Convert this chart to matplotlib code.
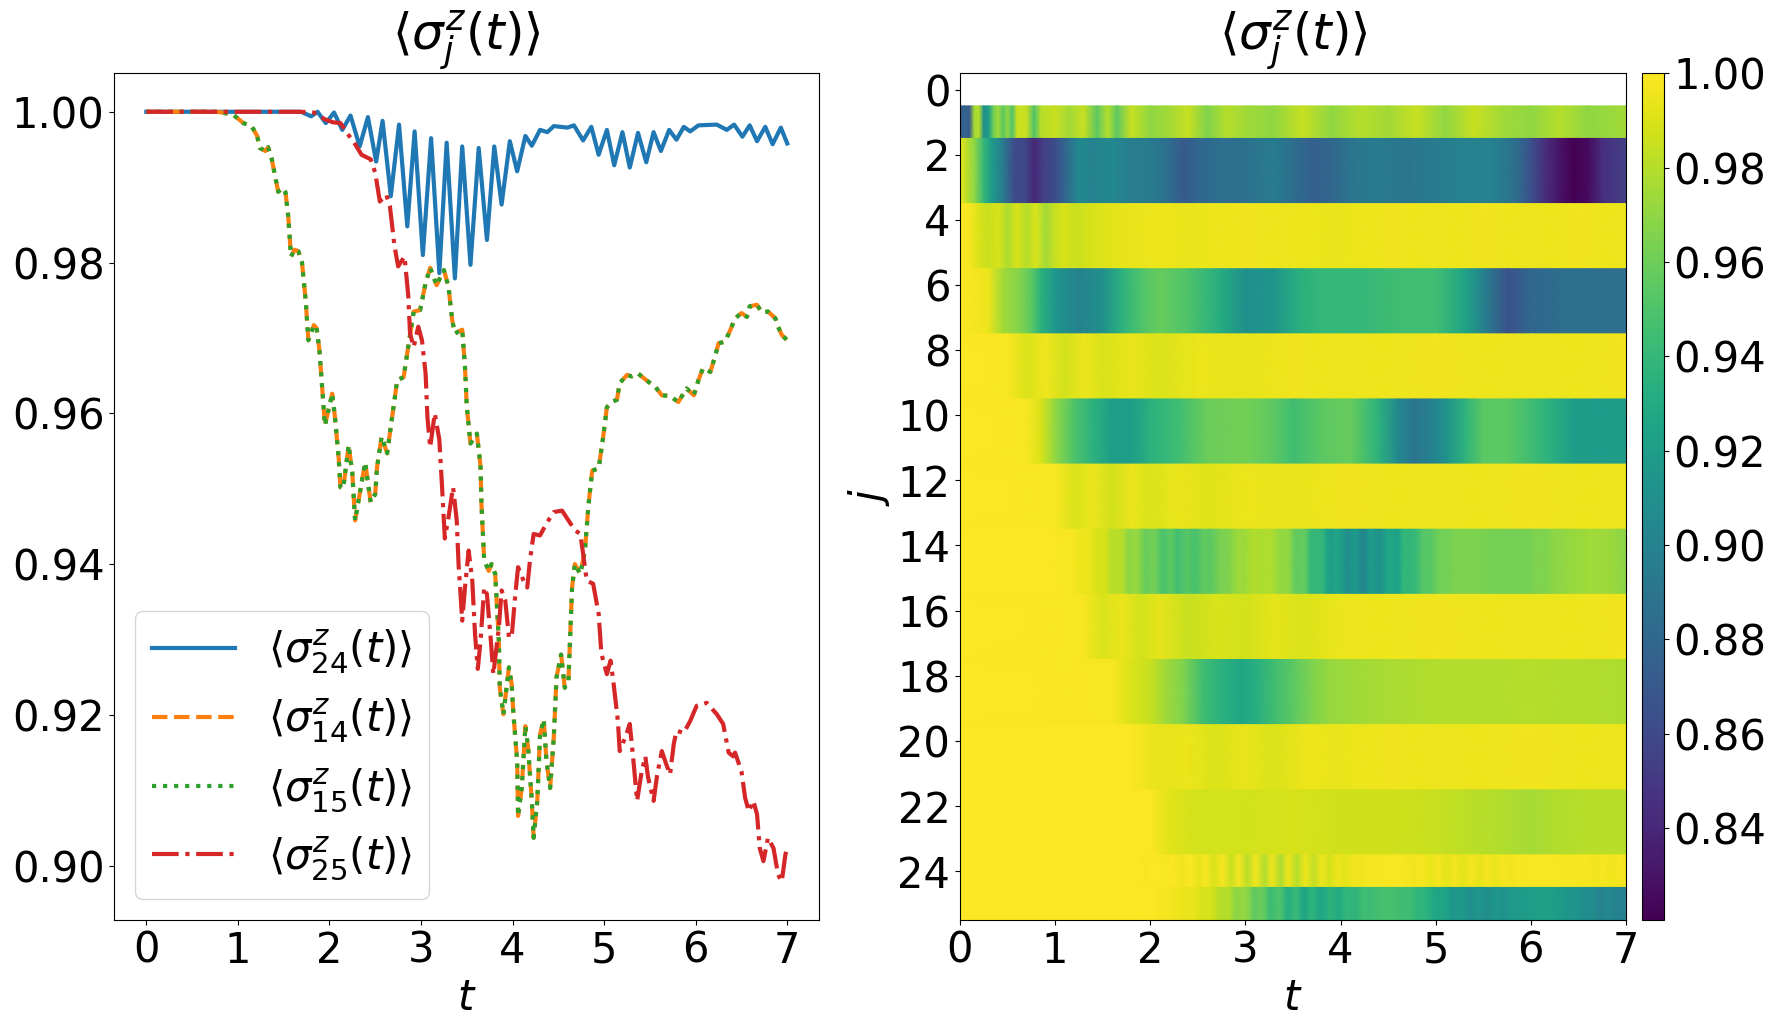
import numpy as np
import matplotlib
matplotlib.use("Agg")
import matplotlib.pyplot as plt
from matplotlib.colors import Normalize
from matplotlib.cm import ScalarMappable

fs = 30
fs_title = 36

# ---- line data ----
sz24_t = [0, 1.69, 1.80, 1.87, 1.96, 2.05, 2.14, 2.23, 2.33, 2.42, 2.51, 2.58, 2.67, 2.76,
          2.85, 2.93, 3.02, 3.11, 3.20, 3.28, 3.37, 3.45, 3.54, 3.63, 3.72, 3.80, 3.88, 3.97,
          4.05, 4.14, 4.21, 4.30, 4.38, 4.45, 4.60, 4.67, 4.77, 4.86, 4.94, 5.03, 5.11, 5.20,
          5.28, 5.37, 5.46, 5.54, 5.62, 5.71, 5.79, 5.87, 5.94, 6.03, 6.23, 6.34, 6.42, 6.51,
          6.59, 6.67, 6.76, 6.84, 6.93, 7.0]
sz24_v = [1.0, 1.0, 0.9994, 1.0, 0.9985, 0.9999, 0.9976, 0.9995, 0.9954, 0.9993, 0.9934,
          0.9988, 0.9888, 0.9983, 0.9848, 0.9974, 0.9810, 0.9965, 0.9786, 0.9959, 0.9779,
          0.9954, 0.9797, 0.9952, 0.9830, 0.9954, 0.9877, 0.9961, 0.9921, 0.9968, 0.9955,
          0.9976, 0.9973, 0.9981, 0.9979, 0.9982, 0.9962, 0.9980, 0.9943, 0.9976, 0.9929,
          0.9973, 0.9926, 0.9972, 0.9933, 0.9973, 0.9948, 0.9976, 0.9963, 0.9980, 0.9974,
          0.9982, 0.9983, 0.9976, 0.9983, 0.9967, 0.9982, 0.9961, 0.9980, 0.9957, 0.9979,
          0.9958]

sz14_t = [0, 0.73, 0.81, 0.95, 1.06, 1.15, 1.21, 1.24, 1.30, 1.33, 1.37, 1.41, 1.44, 1.49,
          1.52, 1.55, 1.58, 1.62, 1.66, 1.70, 1.74, 1.77, 1.83, 1.86, 1.89, 1.92, 1.95, 2.00,
          2.03, 2.06, 2.10, 2.12, 2.15, 2.21, 2.25, 2.28, 2.35, 2.39, 2.45, 2.50, 2.52, 2.57,
          2.63, 2.68, 2.74, 2.81, 2.86, 2.92, 2.99, 3.05, 3.10, 3.17, 3.25, 3.30, 3.34, 3.37,
          3.45, 3.48, 3.50, 3.54, 3.61, 3.65, 3.66, 3.69, 3.74, 3.77, 3.81, 3.83, 3.85, 3.86,
          3.90, 3.96, 3.99, 4.01, 4.05, 4.06, 4.10, 4.14, 4.17, 4.21, 4.23, 4.27, 4.30, 4.34,
          4.37, 4.41, 4.45, 4.48, 4.53, 4.57, 4.61, 4.65, 4.68, 4.74, 4.79, 4.83, 4.87, 4.94,
          4.99, 5.03, 5.08, 5.14, 5.17, 5.25, 5.30, 5.37, 5.46, 5.56, 5.63, 5.72, 5.81, 5.90,
          5.98, 6.03, 6.08, 6.16, 6.21, 6.25, 6.32, 6.38, 6.43, 6.50, 6.56, 6.59, 6.67, 6.72,
          6.79, 6.87, 6.90, 6.94, 7.0]
sz14_v = [1.0, 1.0, 0.99995, 0.9996, 0.9985, 0.9981, 0.9968, 0.9952, 0.9948, 0.9953, 0.9937,
          0.9912, 0.9894, 0.9899, 0.9893, 0.9861, 0.9808, 0.9817, 0.9815, 0.9800, 0.9750,
          0.9697, 0.9717, 0.9713, 0.9684, 0.9635, 0.9584, 0.9610, 0.9626, 0.9595, 0.9542,
          0.9502, 0.9500, 0.9558, 0.9520, 0.9458, 0.9507, 0.9535, 0.9482, 0.9493, 0.9529,
          0.9569, 0.9547, 0.9591, 0.9644, 0.9648, 0.9688, 0.9735, 0.9737, 0.9773, 0.9793,
          0.9770, 0.9790, 0.9768, 0.9724, 0.9706, 0.9711, 0.9662, 0.9609, 0.9560, 0.9573,
          0.9530, 0.9480, 0.9405, 0.9391, 0.9400, 0.9387, 0.9343, 0.9298, 0.9236, 0.9201,
          0.9263, 0.9241, 0.9200, 0.9139, 0.9066, 0.9103, 0.9185, 0.9156, 0.9086, 0.9037,
          0.9086, 0.9174, 0.9194, 0.9139, 0.9103, 0.9170, 0.9250, 0.9280, 0.9236, 0.9245,
          0.9369, 0.9400, 0.9387, 0.9418, 0.9480, 0.9524, 0.9527, 0.9569, 0.9608, 0.9615,
          0.9618, 0.9640, 0.9651, 0.9649, 0.9653, 0.9644, 0.9635, 0.9624, 0.9623, 0.9615,
          0.9633, 0.9624, 0.9644, 0.9660, 0.9655, 0.9675, 0.9693, 0.9695, 0.9711, 0.9726,
          0.9733, 0.9728, 0.9742, 0.9744, 0.9734, 0.9735, 0.9726, 0.9715, 0.9704, 0.9697]

# sigma_15 lies on top of sigma_14 in the picture
sz15_t = list(sz14_t)
sz15_v = list(sz14_v)

sz25_t = [0, 1.68, 1.83, 1.95, 2.04, 2.12, 2.19, 2.26, 2.35, 2.45, 2.50, 2.55, 2.62, 2.66,
          2.71, 2.75, 2.82, 2.86, 2.88, 2.92, 2.97, 3.01, 3.05, 3.07, 3.10, 3.15, 3.20, 3.23,
          3.26, 3.30, 3.35, 3.39, 3.41, 3.45, 3.48, 3.52, 3.56, 3.59, 3.62, 3.65, 3.69, 3.72,
          3.76, 3.79, 3.85, 3.88, 3.92, 3.96, 3.99, 4.03, 4.06, 4.12, 4.16, 4.19, 4.23, 4.30,
          4.37, 4.45, 4.54, 4.61, 4.68, 4.74, 4.77, 4.81, 4.88, 4.94, 4.97, 5.03, 5.07, 5.10,
          5.15, 5.17, 5.23, 5.28, 5.32, 5.36, 5.41, 5.45, 5.48, 5.54, 5.58, 5.63, 5.68, 5.72,
          5.76, 5.79, 5.87, 5.94, 6.01, 6.12, 6.23, 6.30, 6.36, 6.41, 6.43, 6.50, 6.54, 6.58,
          6.63, 6.67, 6.70, 6.74, 6.79, 6.85, 6.90, 6.94, 6.98, 7.0]
sz25_v = [1.0, 1.0, 0.9999, 0.9990, 0.9986, 0.9985, 0.9972, 0.9961, 0.9943, 0.9937, 0.9919,
          0.9881, 0.9890, 0.9875, 0.9822, 0.9795, 0.9808, 0.9757, 0.9706, 0.9688, 0.9715,
          0.9697, 0.9653, 0.9595, 0.9555, 0.9600, 0.9565, 0.9502, 0.9434, 0.9462, 0.9502,
          0.9458, 0.9400, 0.9325, 0.9369, 0.9418, 0.9378, 0.9307, 0.9261, 0.9298, 0.9369,
          0.9360, 0.9303, 0.9254, 0.9316, 0.9365, 0.9352, 0.9303, 0.9303, 0.9360, 0.9396,
          0.9378, 0.9369, 0.9405, 0.9440, 0.9438, 0.9454, 0.9469, 0.9471, 0.9458, 0.9445,
          0.9440, 0.9414, 0.9378, 0.9374, 0.9334, 0.9281, 0.9254, 0.9272, 0.9245, 0.9192,
          0.9152, 0.9170, 0.9188, 0.9139, 0.9086, 0.9125, 0.9145, 0.9117, 0.9086, 0.9121,
          0.9152, 0.9134, 0.9121, 0.9161, 0.9179, 0.9176, 0.9192, 0.9212, 0.9216, 0.9201,
          0.9188, 0.9150, 0.9145, 0.9150, 0.9125, 0.9090, 0.9072, 0.9086, 0.9068, 0.9023,
          0.9006, 0.9037, 0.9023, 0.8988, 0.8979, 0.9015, 0.9023]

# ---- heatmap bands (rows of <sigma_j^z(t)>) ----
row1_t = [0, 0.05, 0.1, 0.15, 0.2, 0.25, 0.3, 0.35, 0.4, 0.45, 0.5, 0.55, 0.6, 0.7, 0.78,
          0.85, 1.0, 1.15, 1.3, 1.44, 1.55, 1.65, 1.8, 2.0, 2.2, 2.4, 2.6, 2.8, 3.0, 3.3,
          3.6, 3.9, 4.2, 4.5, 4.8, 5.1, 5.4, 5.7, 6.0, 6.3, 6.6, 7.0]
row1_v = [0.87, 0.88, 0.87, 0.975, 0.98, 0.91, 0.92, 0.96, 0.975, 0.955, 0.97, 0.95, 0.985,
          0.985, 0.95, 0.98, 0.985, 0.975, 0.985, 0.955, 0.98, 0.955, 0.985, 0.97, 0.975,
          0.985, 0.965, 0.98, 0.975, 0.97, 0.985, 0.97, 0.98, 0.975, 0.985, 0.97, 0.985,
          0.975, 0.97, 0.98, 0.97, 0.975]

rows2_t = [0, 0.08, 0.15, 0.25, 0.33, 0.45, 0.57, 0.68, 0.78, 0.88, 0.98, 1.1, 1.25, 1.4,
           1.6, 1.8, 2.0, 2.2, 2.35, 2.5, 2.7, 2.9, 3.1, 3.3, 3.5, 3.7, 3.9, 4.1, 4.4, 4.7,
           5.0, 5.3, 5.6, 5.85, 6.0, 6.15, 6.3, 6.45, 6.6, 6.75, 7.0]
rows2_v = [0.995, 0.98, 0.97, 0.94, 0.92, 0.895, 0.862, 0.86, 0.84, 0.855, 0.86, 0.878,
           0.905, 0.90, 0.905, 0.895, 0.895, 0.885, 0.87, 0.88, 0.885, 0.885, 0.89, 0.895,
           0.885, 0.875, 0.88, 0.89, 0.895, 0.89, 0.895, 0.90, 0.90, 0.885, 0.865, 0.845,
           0.83, 0.8205, 0.825, 0.845, 0.855]

rows4_t = [0, 0.1, 0.2, 0.3, 0.4, 0.5, 0.6, 0.7, 0.8, 0.9, 1.0, 1.1, 1.2, 1.4, 1.7, 2.0,
           2.5, 3.0, 3.5, 4.0, 4.5, 5.0, 5.5, 6.0, 6.5, 7.0]
rows4_v = [1.0, 0.998, 0.99, 0.985, 0.99, 0.978, 0.99, 0.98, 0.99, 0.975, 0.985, 0.99,
           0.985, 0.99, 0.993, 0.995, 0.994, 0.996, 0.995, 0.994, 0.996, 0.995, 0.996,
           0.995, 0.996, 0.995]

rows6_t = [0, 0.3, 0.45, 0.64, 0.75, 0.85, 1.0, 1.25, 1.5, 1.7, 1.9, 2.1, 2.4, 2.75, 3.0,
           3.3, 3.6, 3.8, 4.2, 4.6, 5.0, 5.3, 5.5, 5.76, 6.0, 6.3, 6.6, 7.0]
rows6_v = [1.0, 0.995, 0.975, 0.965, 0.955, 0.935, 0.915, 0.90, 0.91, 0.935, 0.95, 0.958,
           0.95, 0.93, 0.91, 0.915, 0.935, 0.94, 0.94, 0.945, 0.945, 0.925, 0.90, 0.865,
           0.88, 0.885, 0.885, 0.885]

rows8_t = [0, 0.5, 0.7, 0.9, 1.1, 1.3, 1.5, 1.8, 2.1, 2.5, 3.0, 3.5, 4.0, 5.0, 6.0, 7.0]
rows8_v = [1.0, 0.998, 0.99, 0.996, 0.988, 0.995, 0.99, 0.994, 0.99, 0.995, 0.993, 0.996,
           0.995, 0.996, 0.995, 0.996]

rows10_t = [0, 0.7, 0.85, 1.0, 1.2, 1.4, 1.6, 1.8, 2.0, 2.3, 2.6, 3.0, 3.3, 3.5, 3.8, 4.1,
            4.4, 4.6, 4.77, 4.95, 5.1, 5.3, 5.5, 5.75, 6.0, 6.2, 6.45, 6.7, 7.0]
rows10_v = [1.0, 0.998, 0.99, 0.97, 0.95, 0.935, 0.92, 0.92, 0.935, 0.945, 0.96, 0.962,
            0.955, 0.945, 0.955, 0.958, 0.935, 0.905, 0.89, 0.90, 0.91, 0.935, 0.955, 0.955,
            0.945, 0.935, 0.92, 0.918, 0.92]

rows12_t = [0, 1.0, 1.2, 1.4, 1.6, 1.8, 2.0, 2.3, 2.6, 3.0, 3.5, 4.0, 5.0, 6.0, 7.0]
rows12_v = [1.0, 0.998, 0.99, 0.995, 0.988, 0.994, 0.99, 0.995, 0.991, 0.995, 0.993, 0.996,
            0.995, 0.996, 0.995]

rows16_t = [0, 1.3, 1.5, 1.7, 1.9, 2.1, 2.4, 2.7, 3.0, 3.3, 3.6, 4.0, 5.0, 6.0, 7.0]
rows16_v = [1.0, 0.998, 0.99, 0.995, 0.988, 0.993, 0.985, 0.99, 0.988, 0.993, 0.99, 0.995,
            0.996, 0.995, 0.996]

rows18_t = [0, 1.6, 1.8, 2.0, 2.15, 2.35, 2.55, 2.75, 2.95, 3.1, 3.3, 3.5, 3.7, 3.9, 4.3,
            5.0, 5.5, 6.0, 6.5, 7.0]
rows18_v = [1.0, 0.998, 0.99, 0.985, 0.975, 0.965, 0.945, 0.935, 0.927, 0.932, 0.945, 0.955,
            0.965, 0.972, 0.976, 0.979, 0.979, 0.98, 0.979, 0.978]

rows20_t = [0, 1.8, 2.1, 2.4, 2.7, 3.0, 3.3, 3.6, 4.0, 4.5, 5.0, 6.0, 7.0]
rows20_v = [1.0, 0.999, 0.993, 0.995, 0.99, 0.994, 0.99, 0.995, 0.994, 0.996, 0.995, 0.996,
            0.995]

rows22_t = [0, 2.0, 2.2, 2.5, 3.0, 3.5, 4.0, 4.5, 5.0, 5.3, 5.7, 6.0, 6.3, 6.6, 7.0]
rows22_v = [1.0, 0.999, 0.992, 0.988, 0.988, 0.989, 0.987, 0.987, 0.985, 0.982, 0.979, 0.976,
            0.979, 0.981, 0.981]

# (first row, last row, t, values); row 0 has no data
bands = [
    (1, 1, row1_t, row1_v),
    (2, 3, rows2_t, rows2_v),
    (4, 5, rows4_t, rows4_v),
    (6, 7, rows6_t, rows6_v),
    (8, 9, rows8_t, rows8_v),
    (10, 11, rows10_t, rows10_v),
    (12, 13, rows12_t, rows12_v),
    (14, 14, sz14_t, sz14_v),
    (15, 15, sz15_t, sz15_v),
    (16, 17, rows16_t, rows16_v),
    (18, 19, rows18_t, rows18_v),
    (20, 21, rows20_t, rows20_v),
    (22, 23, rows22_t, rows22_v),
    (24, 24, sz24_t, sz24_v),
    (25, 25, sz25_t, sz25_v),
]

fig = plt.figure(figsize=(17.75, 10.17), dpi=100)
W, H = 1775., 1017.
ax1 = fig.add_axes([114.3 / W, 97 / H, 705 / W, 846.7 / H])
ax2 = fig.add_axes([960.0 / W, 97 / H, 666.0 / W, 846.7 / H])
cax = fig.add_axes([1641.7 / W, 97 / H, 22.3 / W, 846.7 / H])

# left panel
ax1.plot(sz24_t, sz24_v, '-', color='C0', lw=3, label=r'$\langle\sigma^z_{24}(t)\rangle$')
ax1.plot(sz14_t, sz14_v, '--', color='C1', lw=3, label=r'$\langle\sigma^z_{14}(t)\rangle$')
ax1.plot(sz15_t, sz15_v, ':', color='C2', lw=3, label=r'$\langle\sigma^z_{15}(t)\rangle$')
ax1.plot(sz25_t, sz25_v, '-.', color='C3', lw=3, label=r'$\langle\sigma^z_{25}(t)\rangle$')
ax1.set_title(r'$\langle\sigma_j^z(t)\rangle$', fontsize=fs_title)
ax1.set_xlabel(r'$t$', fontsize=fs)
ax1.set_xticks(range(8))
ax1.tick_params(labelsize=fs)
ax1.legend(loc='lower left', fontsize=fs)

# right panel: one smooth strip per band
allv = np.concatenate([np.asarray(b[3]) for b in bands])
norm = Normalize(vmin=allv.min(), vmax=allv.max())
cmap = plt.get_cmap('viridis')
for j0, j1, tt, vv in bands:
    tt = np.asarray(tt)
    vv = np.asarray(vv)
    X = np.vstack([tt, tt])
    Y = np.vstack([np.full(tt.size, j0 - 0.5), np.full(tt.size, j1 + 0.5)])
    C = np.vstack([vv, vv])
    ax2.pcolormesh(X, Y, C, shading='gouraud', cmap=cmap, norm=norm, antialiased=False)
ax2.set_xlim(0, 7)
ax2.set_ylim(25.5, -0.5)
ax2.set_yticks(range(0, 25, 2))
ax2.set_xticks(range(8))
ax2.set_title(r'$\langle\sigma_j^z(t)\rangle$', fontsize=fs_title)
ax2.set_xlabel(r'$t$', fontsize=fs)
ax2.set_ylabel(r'$j$', fontsize=fs)
ax2.tick_params(labelsize=fs)

cb = fig.colorbar(ScalarMappable(norm=norm, cmap=cmap), cax=cax)
cb.ax.tick_params(labelsize=fs)

fig.savefig('out.png', dpi=100)
